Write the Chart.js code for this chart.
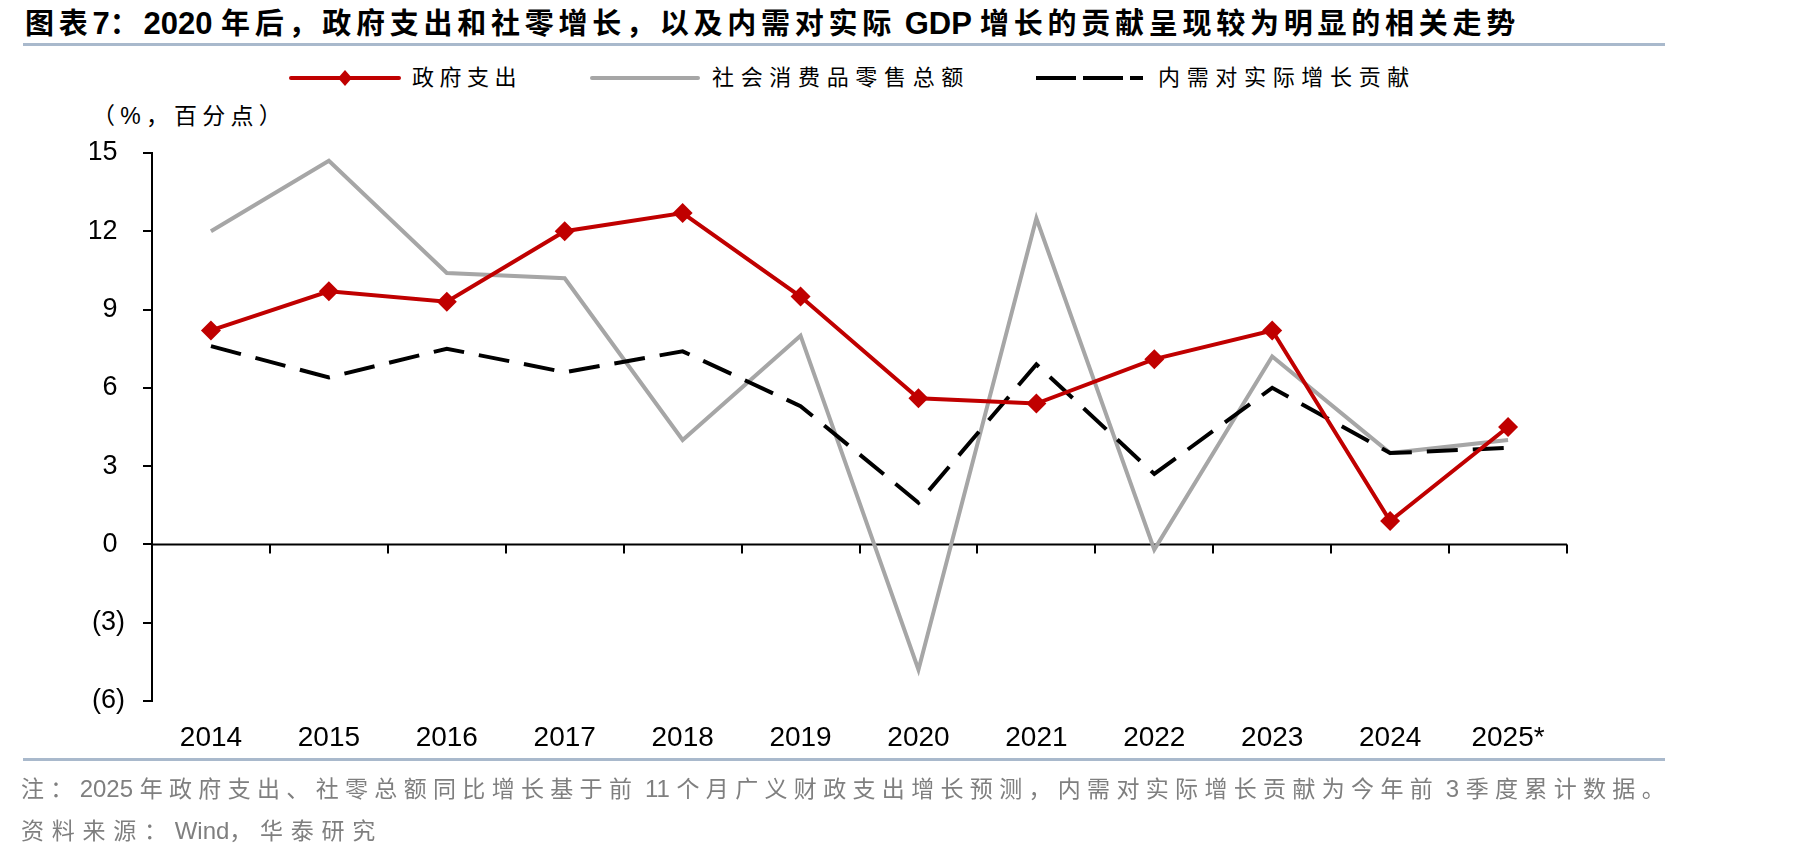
<!DOCTYPE html>
<html>
<head>
<meta charset="utf-8">
<script src="https://cdn.jsdelivr.net/npm/chart.js@4.4.1/dist/chart.umd.min.js"></script>
<style>
  html, body { margin: 0; padding: 0; background: #fff; }
  body { width: 1819px; height: 858px; position: relative; overflow: hidden;
         font-family: "Liberation Sans", "Noto Sans CJK SC", sans-serif; }
  .txt { position: absolute; white-space: pre; line-height: 1; }
  .lat { letter-spacing: 0; }
  #title { left: 25px; top: 8px; font-size: 29px; font-weight: bold; color: #000; }
  #title .lat { font-size: 31px; }
  .rule { position: absolute; left: 23px; width: 1642px; height: 3px; background: #a9b9cc; }
  #units { left: 92px; top: 105px; font-size: 23px; color: #000; }
  .note { left: 21px; font-size: 23px; color: #7f7f7f; }
  .note .lat { font-size: 24px; }
  .leg { position: absolute; top: 68px; }
  .legtxt { top: 67px; font-size: 22px; color: #000; }
  #chart { position: absolute; left: 0; top: 0; }
</style>
</head>
<body>
<div id="title" class="txt">图表7：2020 年后，政府支出和社零增长，以及内需对实际 GDP 增长的贡献呈现较为明显的相关走势</div>
<div class="rule" style="top:43px"></div>

<svg class="leg" style="left:288px" width="114" height="20">
  <line x1="3" y1="10" x2="111" y2="10" stroke="#c00000" stroke-width="4" stroke-linecap="round"/>
  <polygon points="57,2 64,10 57,18 50,10" fill="#c00000"/>
</svg>
<div id="leg1" class="txt legtxt" style="left:412px">政府支出</div>
<svg class="leg" style="left:589px" width="112" height="20">
  <line x1="3" y1="10" x2="109" y2="10" stroke="#a6a6a6" stroke-width="4" stroke-linecap="round"/>
</svg>
<div id="leg2" class="txt legtxt" style="left:712px">社会消费品零售总额</div>
<svg class="leg" style="left:1036px" width="108" height="20">
  <line x1="0" y1="10" x2="107" y2="10" stroke="#000" stroke-width="4" stroke-dasharray="40 7"/>
</svg>
<div id="leg3" class="txt legtxt" style="left:1158px">内需对实际增长贡献</div>

<div id="units" class="txt">（%，百分点）</div>

<canvas id="chart" width="1819" height="858"></canvas>

<div class="rule" style="top:758px"></div>
<div id="note1" class="txt note" style="top:777px">注：2025 年政府支出、社零总额同比增长基于前 11 个月广义财政支出增长预测，内需对实际增长贡献为今年前 3 季度累计数据。</div>
<div id="note2" class="txt note" style="top:819px">资料来源：Wind，华泰研究</div>

<script>
// years on the x axis
var years = ['2014', '2015', '2016', '2017', '2018', '2019', '2020', '2021', '2022', '2023', '2024', '2025*'];

// 政府支出 (%)
var govSpending = [8.2, 9.7, 9.3, 12.0, 12.7, 9.5, 5.6, 5.4, 7.1, 8.2, 0.9, 4.5];
// 社会消费品零售总额 (%)
var retailSales = [12.0, 14.7, 10.4, 10.2, 4.0, 8.0, -4.8, 12.5, -0.2, 7.2, 3.5, 4.0];
// 内需对实际增长贡献 (百分点)
var demandContrib = [7.6, 6.4, 7.5, 6.6, 7.4, 5.3, 1.6, 6.9, 2.7, 6.0, 3.5, 3.7];

// y axis range
var yMin = -6;
var yMax = 15;
var yStep = 3;

// stretch a text line to the width it has in the picture,
// only the chinese characters get the extra spacing
function fitWidth(id, target) {
    var el = document.getElementById(id);
    var text = el.textContent;
    var latin = / ?[A-Za-z0-9*]+ ?/g;
    el.innerHTML = text.replace(latin, '<span class="lat">$&</span>');
    var w = el.getBoundingClientRect().width;
    var n = text.replace(latin, '').length;
    el.style.letterSpacing = ((target - w) / n) + 'px';
}
fitWidth('title', 1495);
fitWidth('leg1', 110);
fitWidth('leg2', 258);
fitWidth('leg3', 258);
fitWidth('units', 195);
fitWidth('note1', 1650);
fitWidth('note2', 362);

// zero line with category tick marks hanging below it
var zeroAxis = {
    id: 'zeroAxis',
    beforeDatasetsDraw: function(chart) {
        var ctx = chart.ctx;
        var x = chart.scales.x;
        var y0 = chart.scales.y.getPixelForValue(0);
        var step = (x.right - x.left) / years.length;
        ctx.save();
        ctx.strokeStyle = '#000';
        ctx.lineWidth = 2;
        ctx.beginPath();
        ctx.moveTo(x.left, y0);
        ctx.lineTo(x.right, y0);
        for (var i = 1; i <= years.length; i++) {
            var px = Math.round(x.left + i * step);
            ctx.moveTo(px, y0);
            ctx.lineTo(px, y0 + 9);
        }
        ctx.stroke();
        ctx.restore();
    }
};

var ctx = document.getElementById('chart').getContext('2d');
var myChart = new Chart(ctx, {
    type: 'line',
    data: {
        labels: years,
        datasets: [{
            label: '社会消费品零售总额',
            data: retailSales,
            borderColor: '#a6a6a6',
            borderWidth: 4,
            pointRadius: 0,
            tension: 0,
            order: 3
        }, {
            label: '内需对实际增长贡献',
            data: demandContrib,
            borderColor: '#000000',
            borderWidth: 4,
            borderDash: [31, 15],
            pointRadius: 0,
            tension: 0,
            order: 2
        }, {
            label: '政府支出',
            data: govSpending,
            borderColor: '#c00000',
            backgroundColor: '#c00000',
            borderWidth: 4,
            pointStyle: 'rectRot',
            pointRadius: 10,
            pointBorderWidth: 0,
            tension: 0,
            order: 1
        }]
    },
    options: {
        responsive: false,
        animation: false,
        devicePixelRatio: 1,
        layout: {
            padding: { left: 90, right: 252, top: 153, bottom: 107 }
        },
        plugins: {
            legend: { display: false },
            tooltip: { enabled: false }
        },
        scales: {
            x: {
                offset: true,
                grid: { display: false, drawTicks: false },
                border: { display: false },
                ticks: {
                    color: '#000',
                    padding: 20,
                    maxRotation: 0,
                    font: { family: 'Liberation Sans', size: 28 }
                },
                afterFit: function(scale) { scale.height = 50; }
            },
            y: {
                min: yMin,
                max: yMax,
                grid: { drawOnChartArea: false, drawTicks: true, tickLength: 9, color: '#000', lineWidth: 2 },
                border: { display: true, color: '#000', width: 2 },
                ticks: {
                    stepSize: yStep,
                    color: '#000',
                    padding: 18,
                    font: { family: 'Liberation Sans', size: 27 },
                    callback: function(v) { return v < 0 ? '(' + (-v) + ')' : v + ' '; }
                },
                afterFit: function(scale) { scale.width = 62; }
            }
        }
    },
    plugins: [zeroAxis]
});
</script>
</body>
</html>
